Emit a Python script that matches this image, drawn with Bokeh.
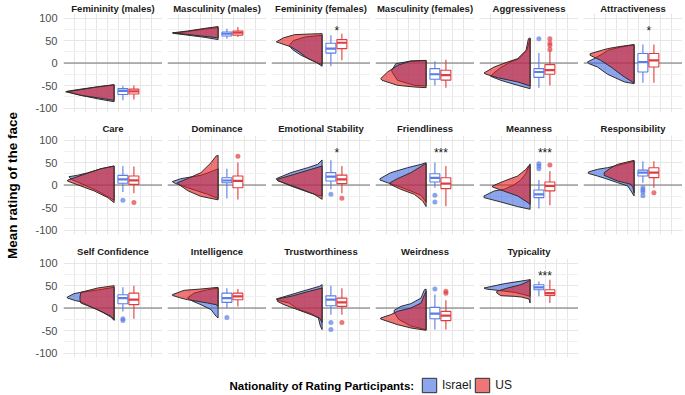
import math
from bokeh.plotting import figure
from bokeh.models import Range1d, FixedTicker, Span, Legend, LegendItem, Label, ColumnDataSource
from bokeh.layouts import column, row
from bokeh.core.properties import value
from bokeh.embed import file_html
from bokeh.resources import INLINE

# ---------------- data ----------------
TRAITS = ["Femininity (males)", "Masculinity (males)", "Femininity (females)",
          "Masculinity (females)", "Aggressiveness", "Attractiveness",
          "Care", "Dominance", "Emotional Stability", "Friendliness", "Meanness",
          "Responsibility", "Self Confidence", "Intelligence", "Trustworthiness",
          "Weirdness", "Typicality"]
SIG = ["", "", "*", "", "", "*", "", "", "*", "***", "***", "", "", "", "", "", "***"]
GROUPS = ["Israel", "US"]

# box statistics: lower whisker, q1, median, q3, upper whisker
ISR_BOX = [[-83, -70, -62, -57, -51], [54, 60, 65, 69, 76], [-7, 22, 32, 44, 61.5],
           [-50, -36, -25, -12.5, 4], [-55, -32, -20, -12.5, 22], [-44, -20, 2, 21, 41],
           [-15.5, 4, 12.7, 21.5, 42], [-30, 5, 10, 16, 36], [-9.5, 9, 18.5, 27.5, 55],
           [-6, 6.7, 16, 25, 50], [-52, -28, -20.7, -11, 11], [5, 20, 27.5, 33, 53],
           [-7.5, 9.6, 22, 29.6, 46], [0, 12.5, 22, 33, 44], [-15, 5, 18.5, 27, 49.6],
           [-48, -24, -12.7, 1.5, 30], [26, 40.7, 46, 51.8, 59]]
US_BOX = [[-81, -69, -63, -58, -50], [58, 62, 67.5, 71, 80], [6, 32, 45, 52, 65],
          [-55, -38, -27, -16, 7.5], [-50, -25, -16, -3.6, 28], [-44, -9, 6, 21, 41],
          [-18.5, 1.5, 10.4, 20, 41], [-32, -6, 9, 20, 50], [-18.5, 3, 12.7, 22, 42],
          [-47, -8, 3, 16, 42], [-45, -13, -2, 6.7, 31], [-6, 16.4, 27.5, 38.5, 53],
          [-24, 7.4, 18.5, 33, 49.6], [3.5, 18.5, 26, 33, 42], [-15, 3.6, 12.5, 22, 44],
          [-48, -28, -17, -7.5, 17], [11, 28, 33, 40.7, 63]]
ISR_OUT = [[], [], [], [], [54], [], [-34], [], [-20.7], [-23, -38], [36, 42, 47.5],
           [-6, -11, -15.5, -24], [-24, -27.5], [-21], [-32, -48], [42], []]
US_OUT = [[], [], [], [], [30, 39, 44.5, 54], [], [-39], [64], [-29.6], [], [44.5],
          [-17], [], [], [-32], [33, 37], []]

# half-violin outlines: rating values and the density width (x units) at each
ISR_VY = [[-86, -80, -72, -63, -58, -53, -49], [52, 57, 62, 66, 70, 75, 79],
          [-7.4, 2, 17, 30, 39, 50, 58, 61.5],
          [-51, -49.6, -38.5, -20, -16.3, -1.5, 4.4, 5.2],
          [-57, -49.6, -38.5, -29.6, -22, -9, 2, 10, 28, 54],
          [-46, -42, -25, -8.9, -1.5, 2.2, 9.6, 20, 28, 35, 41],
          [-34, -28, -13.3, 0, 12.6, 18.5, 21.5, 27, 36, 42],
          [-30, -20.7, -5.9, 3.7, 7.4, 14, 21.5, 30, 36],
          [-24.4, -23, -15.6, -2.2, 11.1, 14.1, 27.4, 38.5, 45.9, 55.6],
          [-38, -23, -13.3, -2.2, 5.2, 11.1, 14.1, 27.4, 38.5, 45.9, 49.6],
          [-54, -48, -37.8, -28, -24.4, -13.3, -9, 0, 10, 25, 47],
          [-24.4, -13.3, -2.2, 5.2, 14.1, 20, 25.9, 28.9, 34.8, 38.5, 44, 49, 53],
          [-27.5, -20, -10, 5, 14.1, 16.3, 22.2, 24.4, 31.9, 34.8, 40, 46],
          [-22, -18.5, -3.7, 7.4, 15, 22.2, 33, 40.7, 44],
          [-48, -40.7, -22.2, -12.6, -2.2, 11.1, 17, 20, 29.6, 40.7, 48.1, 51.9],
          [-48, -40, -25, -10, -5.2, 3.7, 9.6, 22.2, 40.7, 42],
          [26, 30, 34.8, 39.3, 42.2, 44.4, 54, 61.5, 63]]
ISR_VW = [[0, 1.4, 3.0, 4.3, 3.0, 1.5, 0], [0, 1.2, 2.8, 4.1, 2.8, 1.3, 0],
          [0, 0.55, 1.9, 2.7, 3.0, 2.6, 1.5, 0],
          [0, 1.07, 2.6, 3.1, 3.12, 2.75, 1.38, 0],
          [0, 1.13, 2.66, 3.58, 3.3, 2.6, 1.8, 1.0, 0.3, 0],
          [0, 0.89, 2.42, 3.33, 4.1, 4.25, 3.64, 2.9, 2.4, 1.3, 0],
          [0, 0.43, 1.5, 2.7, 3.9, 4.1, 3.33, 2.4, 1.2, 0],
          [0, 0.95, 2.78, 3.9, 4.16, 3.4, 1.56, 0.6, 0],
          [0, 0.34, 1.31, 2.84, 4.1, 4.16, 2.84, 1.31, 0.4, 0],
          [0, 0.46, 1.38, 2.6, 3.52, 4.19, 4.19, 3.21, 1.68, 0.46, 0],
          [0, 1.13, 2.66, 4.19, 4.19, 3.27, 2.3, 1.5, 0.9, 0.4, 0],
          [0, 0.28, 0.58, 1.5, 2.57, 3.33, 4.16, 4.16, 3.33, 2.42, 1.4, 0.6, 0],
          [0, 0.3, 1.0, 2.3, 3.03, 3.5, 4.25, 4.25, 3.64, 3.03, 1.5, 0],
          [0, 0.18, 0.64, 1.56, 2.3, 2.78, 2.2, 0.95, 0],
          [0, 0.15, 0.34, 1.0, 2.23, 3.0, 4.0, 4.16, 2.84, 1.31, 0.24, 0],
          [0, 1.4, 2.5, 2.9, 2.9, 2.29, 1.38, 0.46, 0.15, 0],
          [0, 0.6, 1.44, 2.97, 4.0, 4.19, 2.35, 0.37, 0]]
US_VY = [[-83, -78, -72, -64, -59, -53, -48], [56, 60, 64, 67, 71, 77, 81],
         [-3, -1.5, 10, 25, 36, 47, 56, 63, 64.5, 65.2],
         [-54.8, -53.3, -49.6, -38.5, -34.8, -20, -5.2, 4.4, 5.9],
         [-51, -42, -32.6, -25, -22.2, -8.9, 2.2, 9.6, 28, 54, 55.6],
         [-44.4, -31, -8.9, 5.9, 17, 20.7, 31.9, 37, 40.7],
         [-39, -28, -13.3, -2.2, 8.9, 11.1, 23.7, 36.3, 42.2],
         [-33, -25, -13.3, 1.5, 5.2, 14, 27.4, 49.6, 64.4, 66],
         [-31.9, -20.7, -5.9, 8.9, 12.6, 23.7, 34.8, 42.2],
         [-48, -35.6, -20.7, -9.6, 1.5, 5.2, 14.1, 27.4, 45.9, 47.4],
         [-43, -39, -24.4, -11.1, -4.4, -2.2, 8.9, 20, 34.8, 42.2, 43.7],
         [-17, -5.9, 1.5, 8.9, 21.5, 27.4, 38.5, 45.9, 54.8],
         [-26, -18.5, -3.7, 11.1, 18, 25, 34.8, 44.4, 49.6],
         [3.5, 7.4, 11.1, 18.5, 22.2, 28.1, 29.6, 39.3, 42.2, 45.9],
         [-32, -22.2, -14.8, -3.7, 7.4, 14.8, 20, 27.4, 37, 44.4],
         [-49.6, -44.4, -37, -24.4, -22.2, -14.8, -7.4, 0, 11, 29.6, 37],
         [11, 20, 24.4, 25.9, 27.4, 33.3, 37, 44.4, 51.9, 59.3, 63]]
US_VW = [[0, 1.3, 3.0, 4.4, 3.0, 1.5, 0], [0, 1.5, 3.0, 4.16, 2.8, 1.2, 0],
         [0, 0.3, 1.3, 2.1, 2.85, 4.16, 3.5, 2.5, 1.0, 0],
         [0, 1.07, 2.6, 4.0, 4.13, 3.5, 2.6, 1.38, 0],
         [0, 1.13, 2.97, 4.0, 4.19, 3.27, 2.05, 1.13, 0.37, 0.15, 0],
         [0, 0.89, 2.1, 3.03, 4.0, 4.0, 2.42, 1.2, 0],
         [0, 0.58, 1.8, 3.03, 4.25, 4.2, 2.72, 1.19, 0],
         [0, 1.6, 2.7, 3.6, 3.7, 2.78, 1.56, 0.64, 0.18, 0],
         [0, 0.7, 2.23, 4.0, 4.07, 2.54, 1.0, 0],
         [0, 0.3, 1.07, 2.3, 3.27, 3.27, 2.6, 1.38, 0.15, 0],
         [0, 0.2, 1.13, 2.66, 3.42, 3.42, 2.35, 1.13, 0.37, 0.15, 0],
         [0, 0.1, 0.28, 1.5, 2.72, 2.72, 2.1, 1.5, 0],
         [0, 0.28, 1.5, 3.03, 3.1, 3.1, 3.03, 1.5, 0],
         [0, 0.2, 0.95, 2.78, 3.4, 4.16, 4.16, 3.09, 1.56, 0],
         [0, 0.24, 1.0, 2.23, 3.46, 4.07, 4.07, 2.6, 1.2, 0],
         [0, 1.38, 2.6, 4.13, 4.13, 3.21, 2.6, 1.38, 0.46, 0.15, 0],
         [0, 0.1, 0.8, 1.44, 2.66, 3.03, 3.03, 2.05, 0.83, 0.15, 0]]

Y_TICKS = [-100, -50, 0, 50, 100]
Y_MINOR = [-75, -25, 25, 75]
Y_LABELS = ["-100", "-50", "0", "50", "100"]

# ---------------- style ----------------
FONT = "Liberation Sans"
ISR_FILL, US_FILL, V_ALPHA = "#4169E1", "#E41A1C", 0.6
ISR_LINE, US_LINE = "#5A7DE6", "#E03C3E"
V_EDGE = 4.6          # flat side of the half violins
ISR_X, US_X, BOX_W = 5.4, 6.4, 0.9
STAR_X = 5.95
FW, FH = 99, 99
YLAB_W = 25
LEFT0, GAP = 63 - YLAB_W, 5
TITLE_STANDOFF = [0, 3, 3]
ROW_BOTTOM = [7, 8, 19]
TITLE_H = 13
GRID = "#e6e6e6"


def panel(i, col, r):
    p = figure(frame_width=FW, frame_height=FH, x_range=Range1d(0, 9),
               y_range=Range1d(-110, 110), output_backend="svg", toolbar_location=None,
               min_border_left=LEFT0 if col == 0 else GAP, min_border_right=0,
               min_border_top=0, min_border_bottom=ROW_BOTTOM[r], title=TRAITS[i])
    p.title.align = "center"
    p.title.text_font = FONT
    p.title.text_font_size = "9.5px"
    p.title.text_font_style = "bold"
    p.title.text_color = "#1a1a1a"
    p.title.standoff = TITLE_STANDOFF[r]
    p.title.offset = 0
    p.outline_line_color = None
    p.background_fill_color = "white"

    xt = FixedTicker(ticks=[1, 2, 3, 4, 5, 6, 7, 8], minor_ticks=[])
    yt = FixedTicker(ticks=Y_TICKS, minor_ticks=Y_MINOR)
    p.xaxis.visible = False
    p.xgrid.ticker = xt
    p.xgrid.grid_line_color = GRID
    p.yaxis.ticker = yt
    p.ygrid.ticker = yt
    p.ygrid.grid_line_color = GRID
    p.ygrid.minor_grid_line_color = "#f0f0f0"
    if col == 0:
        ax = p.yaxis[0]
        ax.axis_line_color = None
        ax.major_tick_line_color = None
        ax.minor_tick_line_color = None
        ax.major_tick_out = 0
        ax.minor_tick_out = 0
        ax.major_label_standoff = 6
        ax.major_label_overrides = dict(zip(Y_TICKS, Y_LABELS))
        ax.major_label_text_font = FONT
        ax.major_label_text_font_size = "11px"
        ax.major_label_text_color = "#4d4d4d"
    else:
        p.yaxis.visible = False

    p.add_layout(Span(location=0, dimension="width", line_color="#707070",
                      line_width=1.2, level="underlay"))

    # half violins (Israel first, US on top)
    vsrc = ColumnDataSource(dict(
        xs=[[V_EDGE - w for w in ISR_VW[i]], [V_EDGE - w for w in US_VW[i]]],
        ys=[ISR_VY[i], US_VY[i]],
        fill=[ISR_FILL, US_FILL]))
    p.patches(xs="xs", ys="ys", fill_color="fill", fill_alpha=V_ALPHA,
              line_color="#2e2e2e", line_width=1, source=vsrc)

    # box plots
    bl = [ISR_BOX[i], US_BOX[i]]
    bsrc = ColumnDataSource(dict(
        x=[ISR_X, US_X], lw=[b[0] for b in bl], q1=[b[1] for b in bl],
        med=[b[2] for b in bl], q3=[b[3] for b in bl], uw=[b[4] for b in bl],
        x0=[ISR_X - BOX_W / 2, US_X - BOX_W / 2], x1=[ISR_X + BOX_W / 2, US_X + BOX_W / 2],
        color=[ISR_LINE, US_LINE]))
    p.segment(x0="x", y0="lw", x1="x", y1="q1", line_color="color", line_width=1.1, source=bsrc)
    p.segment(x0="x", y0="q3", x1="x", y1="uw", line_color="color", line_width=1.1, source=bsrc)
    p.vbar(x="x", width=BOX_W, bottom="q1", top="q3", fill_color="white",
           line_color="color", line_width=1.1, source=bsrc)
    p.segment(x0="x0", y0="med", x1="x1", y1="med", line_color="color",
              line_width=2.2, source=bsrc)

    # outliers
    osrc = ColumnDataSource(dict(
        x=[ISR_X] * len(ISR_OUT[i]) + [US_X] * len(US_OUT[i]),
        y=ISR_OUT[i] + US_OUT[i],
        color=[ISR_LINE] * len(ISR_OUT[i]) + [US_LINE] * len(US_OUT[i])))
    p.scatter(x="x", y="y", marker="circle", size=5, fill_color="color",
              fill_alpha=0.7, line_color=None, source=osrc)

    if SIG[i]:
        p.text(x=[STAR_X], y=[71], text=[SIG[i]], text_align="center",
               text_baseline="alphabetic", text_font=value(FONT),
               text_font_size="12px", text_color="#1a1a1a")
    return p


rows = []
for r in range(3):
    figs = []
    for c in range(6):
        i = r * 6 + c
        if i >= len(TRAITS):
            break
        figs.append(panel(i, c, r))
    rows.append(row(*figs))
grid = column(*rows)

# y-axis title strip spanning all rows
GRID_H = 3 * (TITLE_H + FH) + sum(TITLE_STANDOFF) + sum(ROW_BOTTOM)
yl = figure(width=YLAB_W, height=GRID_H, x_range=Range1d(0, 1), y_range=Range1d(0, 1),
            output_backend="svg", toolbar_location=None, min_border=0,
            x_axis_location=None, y_axis_location=None)
yl.outline_line_color = None
yl.grid.visible = False
yl.add_layout(Label(x=12, y=GRID_H - 185, x_units="screen", y_units="screen",
                    text="Mean rating of the face", angle=math.pi / 2,
                    text_align="center", text_baseline="middle", text_font=FONT,
                    text_font_style="bold", text_font_size="13.5px", text_color="black"))

# legend strip
lf = figure(width=682, height=18, x_range=Range1d(0, 1), y_range=Range1d(0, 1),
            output_backend="svg", toolbar_location=None, min_border=0,
            x_axis_location=None, y_axis_location=None)
lf.outline_line_color = None
lf.grid.visible = False
# key renderers sit outside the strip's visible range; only their legend keys show
r_isr = lf.quad(left=[-3], right=[-2], top=[-2], bottom=[-3], fill_color=ISR_FILL,
                fill_alpha=V_ALPHA, line_color="#2e2e2e", line_width=1)
r_us = lf.quad(left=[-3], right=[-2], top=[-2], bottom=[-3], fill_color=US_FILL,
               fill_alpha=V_ALPHA, line_color="#2e2e2e", line_width=1)
leg = Legend(items=[LegendItem(label=GROUPS[0], renderers=[r_isr]),
                    LegendItem(label=GROUPS[1], renderers=[r_us])],
             orientation="horizontal", location=(420, 0), glyph_width=18,
             glyph_height=18, label_height=18, label_standoff=4, spacing=2,
             padding=0, margin=0, border_line_color=None, background_fill_alpha=0,
             label_text_font=FONT, label_text_font_size="12px",
             label_text_color="#1a1a1a")
lf.add_layout(leg)
lf.add_layout(Label(x=229, y=9, x_units="screen", y_units="screen",
                    text="Nationality of Rating Participants:", text_font=FONT,
                    text_font_style="bold", text_font_size="11.5px",
                    text_baseline="middle", text_color="black"))

layout = column(row(yl, grid), lf)
open("out.html", "w").write(file_html(layout, INLINE))
